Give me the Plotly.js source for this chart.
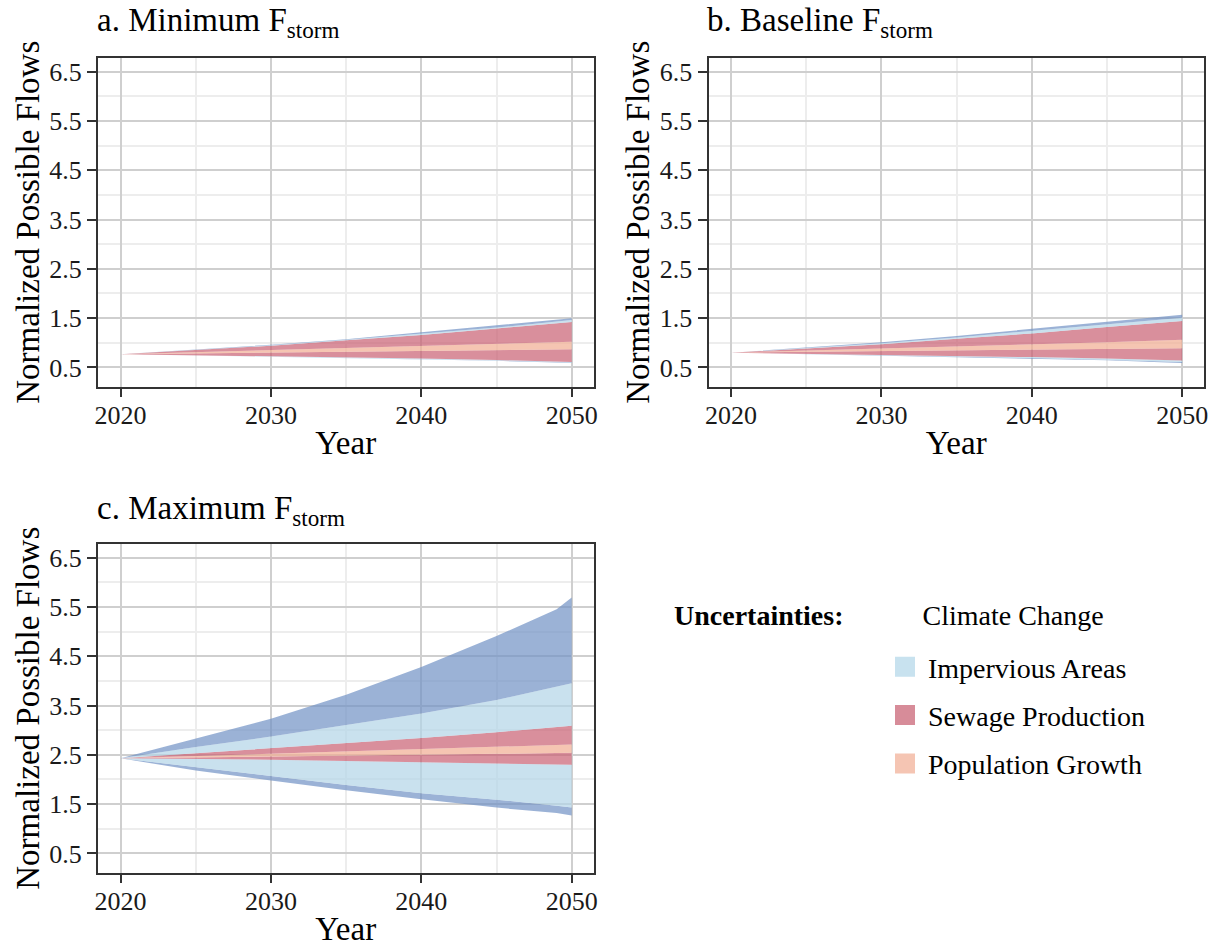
<!DOCTYPE html>
<html>
<head>
<meta charset="utf-8">
<script src="https://cdn.plot.ly/plotly-3.0.1.min.js"></script>
<style>
  html, body { margin: 0; padding: 0; background: #ffffff; }
  #chart { width: 1221px; height: 947px; }
</style>
</head>
<body>
<div id="chart"></div>
<script>
// ---------- data ----------
const years = [2020, 2025, 2030, 2035, 2040, 2045, 2049, 2050];

// a. Minimum F_storm
const a_climate_lo = [0.77, 0.745, 0.72, 0.695, 0.665, 0.635, 0.60, 0.59];
const a_imperv_lo  = [0.77, 0.745, 0.72, 0.70, 0.67, 0.64, 0.61, 0.60];
const a_sewage_lo  = [0.77, 0.75, 0.73, 0.71, 0.68, 0.65, 0.62, 0.61];
const a_pop_lo     = [0.77, 0.785, 0.80, 0.815, 0.83, 0.85, 0.865, 0.87];
const a_pop_hi     = [0.77, 0.81, 0.85, 0.89, 0.93, 0.97, 1.01, 1.02];
const a_sewage_hi  = [0.77, 0.85, 0.94, 1.05, 1.16, 1.29, 1.40, 1.42];
const a_imperv_hi  = [0.77, 0.86, 0.95, 1.06, 1.18, 1.31, 1.43, 1.46];
const a_climate_hi = [0.77, 0.86, 0.96, 1.07, 1.21, 1.35, 1.47, 1.50];

// b. Baseline F_storm
const b_climate_lo = [0.80, 0.77, 0.745, 0.71, 0.68, 0.645, 0.60, 0.59];
const b_imperv_lo  = [0.80, 0.775, 0.75, 0.72, 0.69, 0.655, 0.62, 0.61];
const b_sewage_lo  = [0.80, 0.78, 0.76, 0.735, 0.71, 0.68, 0.65, 0.64];
const b_pop_lo     = [0.80, 0.815, 0.83, 0.845, 0.86, 0.875, 0.885, 0.89];
const b_pop_hi     = [0.80, 0.84, 0.88, 0.92, 0.96, 1.01, 1.05, 1.06];
const b_sewage_hi  = [0.80, 0.88, 0.97, 1.08, 1.19, 1.32, 1.42, 1.44];
const b_imperv_hi  = [0.80, 0.89, 0.99, 1.11, 1.24, 1.37, 1.48, 1.51];
const b_climate_hi = [0.80, 0.90, 1.01, 1.14, 1.28, 1.42, 1.54, 1.57];

// c. Maximum F_storm
const c_climate_lo = [2.43, 2.18, 1.98, 1.78, 1.60, 1.43, 1.32, 1.27];
const c_imperv_lo  = [2.43, 2.25, 2.06, 1.89, 1.72, 1.59, 1.47, 1.43];
const c_sewage_lo  = [2.43, 2.42, 2.40, 2.375, 2.35, 2.33, 2.31, 2.30];
const c_pop_lo     = [2.43, 2.445, 2.46, 2.48, 2.50, 2.52, 2.535, 2.54];
const c_pop_hi     = [2.43, 2.475, 2.52, 2.565, 2.61, 2.66, 2.70, 2.71];
const c_sewage_hi  = [2.43, 2.53, 2.63, 2.73, 2.84, 2.96, 3.07, 3.09];
const c_imperv_hi  = [2.43, 2.66, 2.87, 3.10, 3.34, 3.61, 3.87, 3.95];
const c_climate_hi = [2.43, 2.83, 3.23, 3.72, 4.28, 4.91, 5.45, 5.69];

const panelTitles = ['a. Minimum F<sub>storm</sub>', 'b. Baseline F<sub>storm</sub>', 'c. Maximum F<sub>storm</sub>'];
const uncertaintyNames = ['Climate Change', 'Impervious Areas', 'Sewage Production', 'Population Growth'];
const xTickVals = [2020, 2030, 2040, 2050];
const xMinorVals = [2025, 2035, 2045];
const yTickVals = [0.5, 1.5, 2.5, 3.5, 4.5, 5.5, 6.5];
const yTickText = ['0.5', '1.5', '2.5', '3.5', '4.5', '5.5', '6.5'];
const yMinorVals = [1, 2, 3, 4, 5, 6];

// ---------- styles ----------
const FONT = 'Liberation Serif, Times New Roman, serif';
const COL = {
  climate: 'rgba(112,146,196,0.70)',
  imperv:  'rgba(178,212,231,0.70)',
  sewage:  'rgba(201,95,114,0.70)',
  pop:     'rgba(241,172,145,0.70)'
};
const SWATCH = { imperv: '#c8e2ef', sewage: '#d78c99', pop: '#f5c5b3' };

function bands(s, xa, ya) {
  const seq = [
    [s.climate_lo, 'none', null],
    [s.imperv_lo,  'tonexty', COL.climate],
    [s.sewage_lo,  'tonexty', COL.imperv],
    [s.pop_lo,     'tonexty', COL.sewage],
    [s.pop_hi,     'tonexty', COL.pop],
    [s.sewage_hi,  'tonexty', COL.sewage],
    [s.imperv_hi,  'tonexty', COL.imperv],
    [s.climate_hi, 'tonexty', COL.climate]
  ];
  return seq.map(([y, fill, fc]) => {
    const t = { type: 'scatter', mode: 'lines', x: years, y: y, xaxis: xa, yaxis: ya,
                line: { width: 0 }, showlegend: false, hoverinfo: 'skip', fill: fill };
    if (fc) t.fillcolor = fc;
    return t;
  });
}

const data = [].concat(
  bands({climate_lo: a_climate_lo, imperv_lo: a_imperv_lo, sewage_lo: a_sewage_lo, pop_lo: a_pop_lo,
         pop_hi: a_pop_hi, sewage_hi: a_sewage_hi, imperv_hi: a_imperv_hi, climate_hi: a_climate_hi}, 'x', 'y'),
  bands({climate_lo: b_climate_lo, imperv_lo: b_imperv_lo, sewage_lo: b_sewage_lo, pop_lo: b_pop_lo,
         pop_hi: b_pop_hi, sewage_hi: b_sewage_hi, imperv_hi: b_imperv_hi, climate_hi: b_climate_hi}, 'x2', 'y2'),
  bands({climate_lo: c_climate_lo, imperv_lo: c_imperv_lo, sewage_lo: c_sewage_lo, pop_lo: c_pop_lo,
         pop_hi: c_pop_hi, sewage_hi: c_sewage_hi, imperv_hi: c_imperv_hi, climate_hi: c_climate_hi}, 'x3', 'y3')
);

// legend entries
function legendItem(name, color, legend, group) {
  return { type: 'scatter', mode: 'markers', x: [null], y: [null], xaxis: 'x3', yaxis: 'y3',
           name: name, legend: legend, legendgroup: group, showlegend: true, hoverinfo: 'skip',
           marker: { symbol: 'square', size: 16, color: color, line: { color: color, width: 4 } } };
}
data.push(legendItem(uncertaintyNames[0], 'rgba(0,0,0,0)', 'legend', 'g0'));
data.push(legendItem(uncertaintyNames[1], SWATCH.imperv, 'legend2', 'g1'));
data.push(legendItem(uncertaintyNames[2], SWATCH.sewage, 'legend2', 'g2'));
data.push(legendItem(uncertaintyNames[3], SWATCH.pop, 'legend2', 'g3'));

// ---------- layout ----------
const W = 1221, H = 947;
const px = v => v / W, py = v => 1 - v / H;

function xAxis(domain, anchor) {
  return {
    domain: domain, anchor: anchor, range: [2018.5, 2051.45],
    tickmode: 'array', tickvals: xTickVals, ticktext: xTickVals.map(String),
    ticks: 'outside', ticklen: 8, tickwidth: 2, tickcolor: '#333',
    ticklabelstandoff: -4,
    showline: true, mirror: true, linecolor: '#333', linewidth: 2,
    showgrid: true, gridcolor: '#cfcfcf', gridwidth: 2, zeroline: false,
    minor: { tickmode: 'array', tickvals: xMinorVals, showgrid: true, gridcolor: '#ededed', gridwidth: 2, ticks: '' },
    tickfont: { family: FONT, size: 26, color: '#1a1a1a' },
    title: { text: 'Year', font: { family: FONT, size: 33, color: '#000' }, standoff: 2 },
    automargin: false, fixedrange: true
  };
}
function yAxis(domain, anchor) {
  return {
    domain: domain, anchor: anchor, range: [0.104, 6.785],
    tickmode: 'array', tickvals: yTickVals, ticktext: yTickText,
    ticks: 'outside', ticklen: 9, tickwidth: 2, tickcolor: '#333',
    showline: true, mirror: true, linecolor: '#333', linewidth: 2,
    showgrid: true, gridcolor: '#cfcfcf', gridwidth: 2, zeroline: false,
    minor: { tickmode: 'array', tickvals: yMinorVals, showgrid: true, gridcolor: '#ededed', gridwidth: 2, ticks: '' },
    tickfont: { family: FONT, size: 26, color: '#1a1a1a' },
    title: { text: 'Normalized Possible Flows', font: { family: FONT, size: 33, color: '#000' }, standoff: 0 },
    automargin: false, fixedrange: true
  };
}

const dxA = [px(98), px(593.5)];
const dxB = [px(708.5), px(1204)];
const dyTop = [py(387), py(57.5)];
const dyBot = [py(873), py(543.5)];

const titleAnn = (text, x, y) => ({
  text: text, xref: 'paper', yref: 'paper', x: x, y: y, xanchor: 'left', yanchor: 'middle',
  showarrow: false, font: { family: FONT, size: 33, color: '#000' }
});

const layout = {
  width: W, height: H,
  margin: { l: 0, r: 0, t: 0, b: 0 },
  paper_bgcolor: '#ffffff', plot_bgcolor: '#ffffff',
  font: { family: FONT, color: '#000' },
  xaxis: xAxis(dxA, 'y'), yaxis: yAxis(dyTop, 'x'),
  xaxis2: xAxis(dxB, 'y2'), yaxis2: yAxis(dyTop, 'x2'),
  xaxis3: xAxis(dxA, 'y3'), yaxis3: yAxis(dyBot, 'x3'),
  annotations: [
    titleAnn(panelTitles[0], px(95), py(23)),
    titleAnn(panelTitles[1], px(705), py(23)),
    titleAnn(panelTitles[2], px(95), py(510))
  ],
  legend: {
    x: px(672), y: py(589), xanchor: 'left', yanchor: 'top',
    bgcolor: 'rgba(0,0,0,0)', borderwidth: 0,
    font: { family: FONT, size: 28, color: '#000' },
    title: { text: '<b>Uncertainties:</b>', side: 'left', font: { family: FONT, size: 28, color: '#000' } },
    itemwidth: 61
  },
  legend2: {
    x: px(882), y: py(642), xanchor: 'left', yanchor: 'top',
    bgcolor: 'rgba(0,0,0,0)', borderwidth: 0,
    font: { family: FONT, size: 28, color: '#000' },
    tracegroupgap: 9, itemwidth: 36
  },
  showlegend: true
};

Plotly.newPlot('chart', data, layout, { displayModeBar: false, staticPlot: true });
</script>
</body>
</html>
